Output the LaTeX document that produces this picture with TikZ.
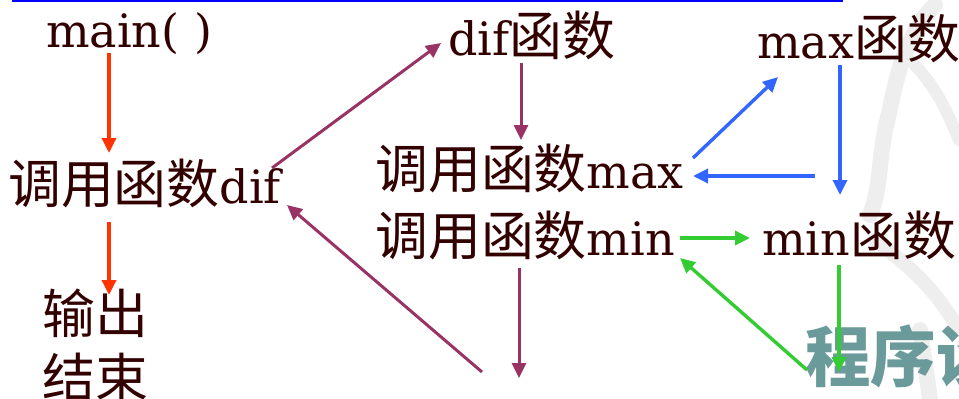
\documentclass[tikz,border=0pt]{standalone}
\usepackage{fontspec}
\setmainfont{DejaVu Serif}
\newfontfamily\cjk{Noto Sans CJK SC}[Scale=1.15]
\usetikzlibrary{arrows.meta}
\definecolor{txtc}{HTML}{330000}
\definecolor{redc}{HTML}{FF3300}
\definecolor{purc}{HTML}{993366}
\definecolor{bluc}{HTML}{3366FF}
\definecolor{grnc}{HTML}{33CC33}
\definecolor{tealc}{HTML}{6A9A9A}
\definecolor{wmc}{HTML}{EEEEEE}
\begin{document}
\begin{tikzpicture}[x=1pt,y=-1pt,
  txt/.style={inner sep=0pt, anchor=base west, text=txtc, font=\fontsize{46pt}{54pt}\selectfont},
  arr/.style={line width=3.4pt, -{Triangle[length=15pt,width=14pt]}},
  redarr/.style={arr, draw=redc, fill=redc},
  purarr/.style={arr, line width=3pt, draw=purc, fill=purc},
  bluarr/.style={arr, draw=bluc, fill=bluc},
  grnarr/.style={arr, draw=grnc, fill=grnc}]
\useasboundingbox (0,0) rectangle (959,399);
\begin{scope}
\clip (0,0) rectangle (959,399);
% watermark strokes
\draw[wmc, line width=16pt, line cap=round] (935,5) .. controls (900,40) and (895,90) .. (885,130) .. controls (878,170) and (880,190) .. (870,215);
\draw[wmc, line width=12pt, line cap=round] (910,60) .. controls (940,90) and (950,120) .. (959,140);
\draw[wmc, line width=14pt, line cap=round] (875,240) .. controls (900,260) and (930,280) .. (959,330);
\draw[wmc, line width=16pt, line cap=round] (920,330) -- (930,399);
\node[inner sep=0pt, anchor=base west, text=tealc, font=\cjk\bfseries\fontsize{57pt}{60pt}\selectfont] (wm) at (805,381) {程序设};
\end{scope}
\draw[blue, line width=2pt] (12,1) -- (843,1);
% text nodes
\node[txt] (main) at (46,47) {main( )};
\node[txt] (calldif) at (8,203) {{\cjk 调用函数}dif};
\node[txt] (out) at (42,333) {\cjk 输出};
\node[txt] (end) at (42,397) {\cjk 结束};
\node[txt] (dif) at (448,55) {dif{\cjk 函数}};
\node[txt] (callmax) at (375,188) {{\cjk 调用函数}max};
\node[txt] (callmin) at (375,255) {{\cjk 调用函数}min};
\node[txt] (max) at (757,58) {max{\cjk 函数}};
\node[txt] (min) at (762,255) {min{\cjk 函数}};
% connector end points
\coordinate (r1a) at (109,53);  \coordinate (r1b) at (109,153);
\coordinate (r2a) at (109,222); \coordinate (r2b) at (109,295);
\coordinate (p1a) at (272,168); \coordinate (p1b) at (441,43);
\coordinate (p2a) at (521,63);  \coordinate (p2b) at (521,140);
\coordinate (p3a) at (519,268); \coordinate (p3b) at (519,378);
\coordinate (p4a) at (482,372); \coordinate (p4b) at (287,205);
\coordinate (b1a) at (693,158); \coordinate (b1b) at (778,77);
\coordinate (b2a) at (840,65);  \coordinate (b2b) at (840,195);
\coordinate (b3a) at (815,176); \coordinate (b3b) at (693,176);
\coordinate (g1a) at (680,238); \coordinate (g1b) at (750,238);
\coordinate (g2a) at (839,265); \coordinate (g2b) at (839,372);
\coordinate (g3a) at (807,370); \coordinate (g3b) at (680,258);
% connectors
\draw[redarr] (r1a) -- (r1b);
\draw[redarr] (r2a) -- (r2b);
\draw[purarr] (p1a) -- (p1b);
\draw[purarr] (p2a) -- (p2b);
\draw[purarr] (p3a) -- (p3b);
\draw[purarr] (p4a) -- (p4b);
\draw[bluarr] (b1a) -- (b1b);
\draw[bluarr] (b2a) -- (b2b);
\draw[bluarr] (b3a) -- (b3b);
\draw[grnarr] (g1a) -- (g1b);
\draw[grnarr] (g2a) -- (g2b);
\draw[grnarr] (g3a) -- (g3b);
\end{tikzpicture}
\end{document}
